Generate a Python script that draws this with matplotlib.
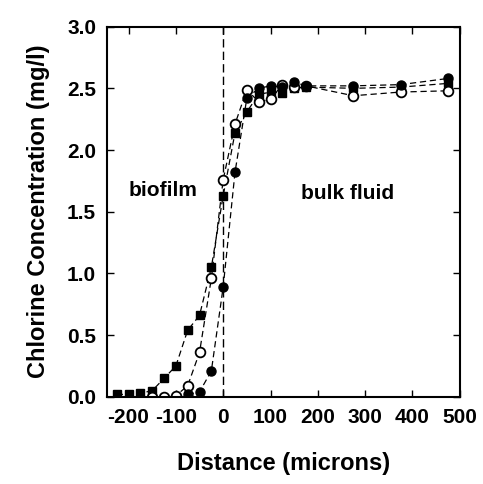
import matplotlib
matplotlib.use("Agg")
import matplotlib.pyplot as plt

plt.rcParams['font.family'] = ['Liberation Sans', 'DejaVu Sans']
plt.rcParams['font.weight'] = 'bold'
plt.rcParams['axes.unicode_minus'] = False

# distance from the biofilm surface (microns) and chlorine (mg/l)
sq_x = [-225, -200, -175, -150, -125, -100, -75, -50, -25, 0, 25, 50, 75, 100, 125, 150, 175, 275, 375, 475]
sq_y = [0.02, 0.02, 0.03, 0.05, 0.15, 0.25, 0.54, 0.66, 1.05, 1.63, 2.14, 2.31, 2.45, 2.47, 2.46, 2.50, 2.51, 2.50, 2.51, 2.54]

oc_x = [-150, -125, -100, -75, -50, -25, 0, 25, 50, 75, 100, 125, 150, 175, 275, 375, 475]
oc_y = [0.0, 0.0, 0.01, 0.09, 0.36, 0.96, 1.76, 2.21, 2.49, 2.39, 2.41, 2.53, 2.51, 2.52, 2.44, 2.47, 2.48]

fc_x = [-75, -50, -25, 0, 25, 50, 75, 100, 125, 150, 175, 275, 375, 475]
fc_y = [0.02, 0.04, 0.21, 0.89, 1.82, 2.42, 2.50, 2.52, 2.51, 2.55, 2.52, 2.52, 2.53, 2.58]

x_ticks = [-200, -100, 0, 100, 200, 300, 400, 500]
y_ticks = [0.0, 0.5, 1.0, 1.5, 2.0, 2.5, 3.0]

fig = plt.figure(figsize=(4.83, 4.84), dpi=100)
ax = fig.add_axes([0.222, 0.18, 0.73, 0.765])

ax.axvline(0, color='black', lw=1.0, ls=(0, (6, 3)))

ax.plot(sq_x, sq_y, color='black', lw=0.9, ls=(0, (5, 3)), marker='s',
        markersize=6, markerfacecolor='black', markeredgecolor='black')
ax.plot(oc_x, oc_y, color='black', lw=0.9, ls=(0, (5, 3)), marker='o',
        markersize=7, markerfacecolor='white', markeredgecolor='black', markeredgewidth=1.3)
ax.plot(fc_x, fc_y, color='black', lw=0.9, ls=(0, (5, 3)), marker='o',
        markersize=6.5, markerfacecolor='black', markeredgecolor='black')

ax.text(-128, 1.67, 'biofilm', fontsize=15, fontweight='bold', ha='center', va='center')
ax.text(263, 1.65, 'bulk fluid', fontsize=15, fontweight='bold', ha='center', va='center')

ax.set_xlim(-245, 500)
ax.set_ylim(0, 3.0)
ax.set_xticks(x_ticks)
ax.set_yticks(y_ticks)
ax.set_yticklabels([f'{v:.1f}' for v in y_ticks])
ax.tick_params(direction='in', top=True, right=True, length=5, width=1,
               labelsize=15, pad=8)
for lab in ax.get_xticklabels() + ax.get_yticklabels():
    lab.set_fontweight('bold')
for s in ax.spines.values():
    s.set_linewidth(1.5)

ax.set_xlabel('Distance (microns)', fontsize=17, fontweight='bold', labelpad=18)
ax.set_ylabel('Chlorine Concentration (mg/l)', fontsize=17, fontweight='bold', labelpad=12)

fig.savefig('out.png', dpi=100)
